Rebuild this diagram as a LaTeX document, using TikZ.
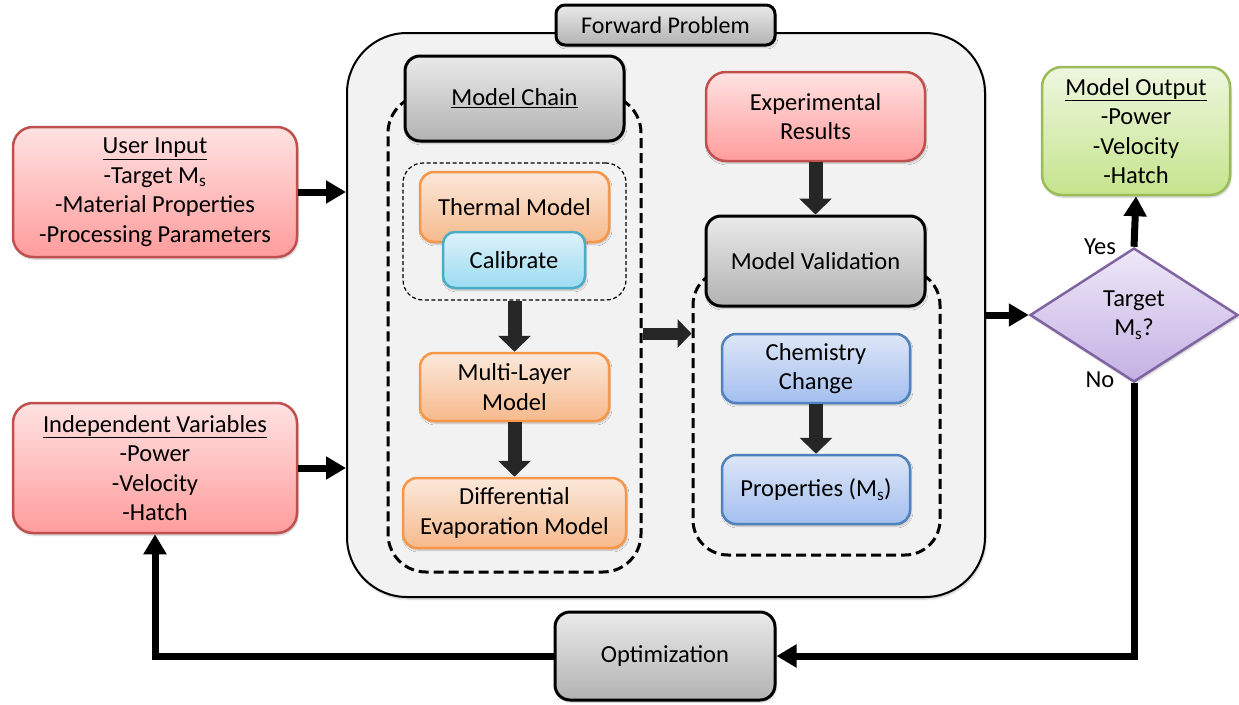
\documentclass[tikz,border=0pt]{standalone}
\usepackage{fontspec}
\setmainfont{Carlito}
\usetikzlibrary{arrows.meta,shapes.geometric,shadows.blur}
\definecolor{redB}{HTML}{C0504D}\definecolor{redT}{HTML}{FFE2E2}\definecolor{redD}{HTML}{FF9C9C}
\definecolor{grayT}{HTML}{EAEAEA}\definecolor{grayD}{HTML}{B2B2B2}
\definecolor{orB}{HTML}{F79646}\definecolor{orT}{HTML}{FBE8DB}\definecolor{orD}{HTML}{F6BA8C}
\definecolor{cyB}{HTML}{4BACC6}\definecolor{cyT}{HTML}{DDF1F8}\definecolor{cyD}{HTML}{9ADCF2}
\definecolor{blB}{HTML}{4F81BD}\definecolor{blT}{HTML}{DDE6F6}\definecolor{blD}{HTML}{A3BFF0}
\definecolor{grB}{HTML}{9BBB59}\definecolor{grT}{HTML}{EEF7E0}\definecolor{grD}{HTML}{C5E48C}
\definecolor{puB}{HTML}{8064A2}\definecolor{puT}{HTML}{EEE8F7}\definecolor{puD}{HTML}{C4B0E4}
\definecolor{fpfill}{HTML}{F2F2F2}\definecolor{blockgray}{HTML}{262626}
\newcommand{\txt}{\fontsize{24.5}{29.5}\selectfont}
\tikzset{
  shd/.style={blur shadow={shadow xshift=1pt,shadow yshift=-2pt,shadow blur steps=6,shadow opacity=25}},
  box/.style={shd,rounded corners=20pt,line width=2.5pt,align=center,inner sep=0pt,font=\txt},
  redbox/.style={box,draw=redB,top color=redT,bottom color=redD},
  graybox/.style={box,draw=black,line width=3pt,rounded corners=15pt,top color=grayT,bottom color=grayD},
  orbox/.style={box,draw=orB,top color=orT,bottom color=orD,rounded corners=14pt},
  cybox/.style={box,draw=cyB,top color=cyT,bottom color=cyD,rounded corners=12pt},
  blbox/.style={box,draw=blB,top color=blT,bottom color=blD,rounded corners=14pt},
  grbox/.style={box,draw=grB,top color=grT,bottom color=grD},
  dashbox/.style={draw=black,line width=3pt,dash pattern=on 10pt off 5pt,rounded corners=38pt,inner sep=0pt},
  thindash/.style={draw=black,line width=1.2pt,dash pattern=on 4pt off 2.5pt,rounded corners=20pt,inner sep=0pt},
  conn/.style={line width=7pt,-{Triangle[length=20pt,width=22pt]}},
  blockarrow/.style={line width=14pt,draw=blockgray,-{Triangle[length=16pt,width=32pt]}},
  lbl/.style={font=\txt,inner sep=0pt}
}
\begin{document}
\begin{tikzpicture}[x=1pt,y=-1pt]
\useasboundingbox (0,0) rectangle (1239,704);
% Forward problem container
\node[draw=black,line width=2pt,fill=fpfill,rounded corners=60pt,shd,minimum width=638pt,minimum height=564pt,inner sep=0pt] (fp) at (666,315) {};
\node[graybox,rounded corners=9pt,font=\fontsize{24}{28}\selectfont,minimum width=219pt,minimum height=40pt] (fpl) at (665.5,25) {Forward Problem};
% left inputs
\node[redbox,minimum width=284pt,minimum height=130pt] (ui) at (155,192) {\underline{User Input}\\-Target M\textsubscript{s}\\-Material Properties\\-Processing Parameters};
\node[redbox,minimum width=284pt,minimum height=130pt] (iv) at (155,468) {\underline{Independent Variables}\\-Power\\-Velocity\\-Hatch};
% model chain
\node[dashbox,minimum width=253pt,minimum height=477pt] (mcbox) at (514.5,333.5) {};
\node[graybox,minimum width=219pt,minimum height=85pt] (mch) at (514.5,98.5) {\underline{Model Chain}};
\node[thindash,minimum width=223pt,minimum height=137pt] (calbox) at (514.5,231.5) {};
\node[orbox,minimum width=189pt,minimum height=70pt] (th) at (514.5,207) {Thermal Model};
\node[cybox,minimum width=142pt,minimum height=56pt] (cal) at (514,260) {Calibrate};
\node[orbox,minimum width=189pt,minimum height=68pt] (ml) at (514.5,387) {Multi-Layer\\Model};
\node[orbox,minimum width=223pt,minimum height=70pt] (de) at (514.5,513) {Differential\\Evaporation Model};
% validation
\node[redbox,minimum width=219pt,minimum height=89pt] (exp) at (815.5,116.5) {Experimental\\Results};
\node[dashbox,rounded corners=35pt,minimum width=247pt,minimum height=285pt] (valbox) at (816.5,412.5) {};
\node[graybox,minimum width=219pt,minimum height=90pt] (valh) at (815.5,261) {Model Validation};
\node[blbox,minimum width=188pt,minimum height=69pt] (chem) at (816,368.5) {Chemistry\\Change};
\node[blbox,minimum width=188pt,minimum height=69pt] (prop) at (816,489.5) {Properties (M\textsubscript{s})};
% decision and output
\node[diamond,shd,draw=puB,line width=2.5pt,top color=puT,bottom color=puD,minimum width=208pt,minimum height=134pt,inner sep=0pt,align=center,font=\txt] (dia) at (1134,315) {Target\\M\textsubscript{s}?};
\node[grbox,minimum width=188pt,minimum height=128pt] (out) at (1136,131) {\underline{Model Output}\\-Power\\-Velocity\\-Hatch};
\node[graybox,minimum width=220pt,minimum height=88pt] (opt) at (665,656) {Optimization};
\node[lbl] (yes) at (1100,247) {Yes};
\node[lbl] (no) at (1100,380) {No};
% connectors
\draw[conn] (ui.east) -- (ui.east -| fp.west);
\draw[conn] (iv.east) -- (iv.east -| fp.west);
\draw[blockarrow] (calbox.south) -- (ml.north);
\draw[blockarrow] (ml.south) -- (de.north);
\draw[blockarrow] (exp.south) -- (valh.north);
\draw[blockarrow] (chem.south) -- (prop.north);
\draw[blockarrow,line width=12pt,-{Triangle[length=14pt,width=28pt]}] (mcbox.east) -- (mcbox.east -| valbox.west);
\draw[conn] (fp.east |- dia.west) -- (dia.west);
\draw[conn] (dia.north) -- (out.south);
\draw[conn] (dia.south) |- (opt.east);
\draw[conn] (opt.west) -| (iv.south);
\end{tikzpicture}
\end{document}
